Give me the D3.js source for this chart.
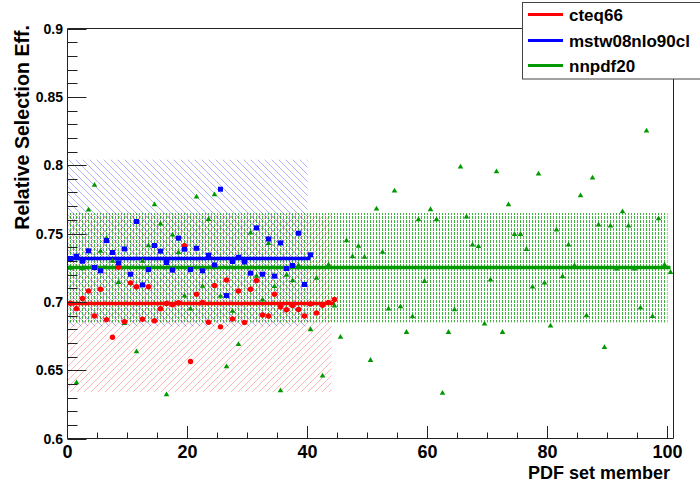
<!DOCTYPE html>
<html><head><meta charset="utf-8">
<script src="https://cdn.jsdelivr.net/npm/d3@7"></script>
<style>body{margin:0;background:#fff}svg{display:block}text{font-family:"Liberation Sans",Arial,sans-serif;font-weight:bold}</style>
</head><body>
<script>
const seriesNames = ["cteq66", "mstw08nlo90cl", "nnpdf20"];
const seriesColors = ["#ff0000", "#0000ff", "#009900"];
const cteq66 = [0.699,0.695,0.7025,0.708,0.6897,0.7092,0.687,0.6741,0.7253,0.6855,0.7139,0.711,0.6873,0.711,0.6862,0.6949,0.6988,0.6978,0.6993,0.7411,0.6563,0.7055,0.6995,0.6851,0.7119,0.6817,0.716,0.6875,0.708,0.6849,0.7092,0.7156,0.6904,0.6896,0.7056,0.6963,0.6942,0.6973,0.6944,0.6896,0.6985,0.6919,0.6975,0.6996,0.7017];
const mstw08 = [0.7317,0.7334,0.7297,0.7373,0.7251,0.7227,0.7448,0.7361,0.7285,0.7387,0.7202,0.7588,0.7124,0.7236,0.7412,0.7371,0.7288,0.7232,0.7466,0.7385,0.7236,0.7392,0.7227,0.7341,0.727,0.7824,0.7046,0.7295,0.7326,0.7292,0.721,0.7541,0.7202,0.746,0.7188,0.7431,0.7244,0.7266,0.7502,0.7127,0.7344];
const nnpdf20 = [0.725,0.6412,0.7245,0.7675,0.7856,0.7373,0.7469,0.73,0.7146,0.6845,0.7139,0.6638,0.73,0.7414,0.7714,0.7573,0.6323,0.7492,0.7364,0.7046,0.6951,0.777,0.7117,0.7607,0.7787,0.7044,0.6529,0.6935,0.6692,0.729,0.7507,0.7191,0.7017,0.7431,0.7115,0.6353,0.7199,0.7158,0.727,0.7127,0.68,0.7177,0.6461,0.7274,0.6974,0.6744,0.7451,0.7334,0.741,0.7329,0.6575,0.7683,0.7366,0.6951,0.7814,0.6968,0.678,0.6895,0.7605,0.7153,0.7678,0.7605,0.6334,0.678,0.6946,0.799,0.7624,0.7419,0.7409,0.6841,0.7163,0.7956,0.678,0.7714,0.7497,0.7497,0.7387,0.7112,0.7939,0.7141,0.6827,0.7529,0.7188,0.7419,0.7268,0.778,0.6902,0.791,0.7566,0.667,0.7558,0.7244,0.7663,0.7558,0.7244,0.6958,0.8253,0.6896,0.7612,0.7273,0.7219];
const means = [0.6988, 0.7317, 0.7251];
const bandLow = [0.634, 0.682, 0.685];
const bandHigh = [0.764, 0.804, 0.765];
const bandEnd = [44, 40, 100];
const xTicks = [0, 20, 40, 60, 80, 100];
const yTicks = [0.6, 0.65, 0.7, 0.75, 0.8, 0.85, 0.9];
const xTitle = "PDF set member";
const yTitle = "Relative Selection Eff.";

const W = 700, H = 486;
const svg = d3.select("body").append("svg").attr("width", W).attr("height", H);
const x = d3.scaleLinear().domain([0, 101]).range([67.5, 673.5]);
const y = d3.scaleLinear().domain([0.6, 0.9]).range([438.5, 28.5]);

const defs = svg.append("defs");
const rp = defs.append("pattern").attr("id","hatchRed").attr("patternUnits","userSpaceOnUse").attr("width",7).attr("height",7);
rp.append("path").attr("d","M0,7 L7,0 M-1,1 L1,-1 M6,8 L8,6").attr("stroke","#ff0000").attr("stroke-opacity",0.28).attr("stroke-width",1);
const bp = defs.append("pattern").attr("id","hatchBlue").attr("patternUnits","userSpaceOnUse").attr("width",7).attr("height",7);
bp.append("path").attr("d","M0,0 L7,7 M-1,6 L1,8 M6,-1 L8,1").attr("stroke","#0000ff").attr("stroke-opacity",0.3).attr("stroke-width",1);
const gp = defs.append("pattern").attr("id","dotGreen").attr("patternUnits","userSpaceOnUse").attr("width",3).attr("height",4);
gp.append("rect").attr("x",1).attr("y",0).attr("width",1).attr("height",3).attr("fill","#009900").attr("fill-opacity",0.75);
const fills = ["url(#hatchRed)","url(#hatchBlue)","url(#dotGreen)"];

// bands
[0,1,2].forEach(k => {
  svg.append("rect").attr("x", x(0)).attr("y", y(bandHigh[k]))
    .attr("width", x(bandEnd[k]) - x(0)).attr("height", y(bandLow[k]) - y(bandHigh[k]))
    .attr("fill", fills[k]);
});

// mean lines
const datas = [cteq66, mstw08, nnpdf20];
[0,1,2].forEach(k => {
  svg.append("line").attr("x1", x(0)).attr("x2", x(datas[k].length - 0.5))
    .attr("y1", y(means[k])).attr("y2", y(means[k]))
    .attr("stroke", seriesColors[k]).attr("stroke-width", 3.5);
});

// markers
svg.append("g").selectAll("path").data(nnpdf20).join("path")
  .attr("d", (v,i) => { const cx = x(i+0.5), cy = y(v); return `M${cx-2.8},${cy+2} L${cx+2.8},${cy+2} L${cx},${cy-2.8} Z`; })
  .attr("fill", seriesColors[2]);
svg.append("g").selectAll("circle").data(cteq66).join("circle")
  .attr("cx", (v,i) => x(i+0.5)).attr("cy", v => y(v)).attr("r", 2.7).attr("fill", seriesColors[0]);
svg.append("g").selectAll("rect").data(mstw08).join("rect")
  .attr("x", (v,i) => x(i+0.5) - 2.5).attr("y", v => y(v) - 2.5).attr("width", 5).attr("height", 5)
  .attr("fill", seriesColors[1]);

// frame
const fc = "#222";
svg.append("line").attr("x1", x(0)).attr("x2", x(101)).attr("y1", 28.5).attr("y2", 28.5).attr("stroke", fc);
svg.append("line").attr("x1", 673.5).attr("x2", 673.5).attr("y1", 28.5).attr("y2", 438.5).attr("stroke", fc);

// x axis
const xMinor = d3.range(0, 101, 5);
const xa = svg.append("g");
xa.append("line").attr("x1", 67.5).attr("x2", 673.5).attr("y1", 438.5).attr("y2", 438.5).attr("stroke", fc);
xa.selectAll("line.t").data(xMinor).join("line").attr("class","t")
  .attr("x1", d => x(d)).attr("x2", d => x(d)).attr("y1", 438.5)
  .attr("y2", d => xTicks.includes(d) ? 426 : 432.5).attr("stroke", fc);
xa.selectAll("text").data(xTicks).join("text")
  .attr("x", d => x(d)).attr("y", 458).attr("text-anchor","middle").attr("font-size", 18).attr("fill","#000")
  .text(d => d);
svg.append("text").attr("x", 670).attr("y", 479).attr("text-anchor","end").attr("font-size", 18).text(xTitle);

// y axis
const yMinor = d3.range(0, 31).map(i => 0.6 + i*0.01);
const ya = svg.append("g");
ya.append("line").attr("x1", 67.5).attr("x2", 67.5).attr("y1", 28.5).attr("y2", 438.5).attr("stroke", fc);
ya.selectAll("line.t").data(yMinor).join("line").attr("class","t")
  .attr("x1", 67.5).attr("y1", d => Math.round(y(d))+0.5).attr("y2", d => Math.round(y(d))+0.5)
  .attr("x2", (d,i) => i % 5 === 0 ? 86.5 : 77.5).attr("stroke", fc);
ya.selectAll("text").data(yTicks).join("text")
  .attr("x", 63).attr("y", d => y(d) + 5).attr("text-anchor","end").attr("font-size", 14)
  .text(d => d3.format("")(d));
svg.append("text").attr("transform","translate(29,25) rotate(-90)").attr("text-anchor","end")
  .attr("font-size", 19.6).text(yTitle);

// legend
const lg = svg.append("g");
lg.append("rect").attr("x", 522.5).attr("y", 2.5).attr("width", 180).attr("height", 76.5)
  .attr("fill","#fff").attr("stroke", "#444");
const ly = [14.5, 40.5, 65.5];
seriesNames.forEach((n,k) => {
  lg.append("line").attr("x1", 528).attr("x2", 563).attr("y1", ly[k]).attr("y2", ly[k])
    .attr("stroke", seriesColors[k]).attr("stroke-width", 3);
  lg.append("text").attr("x", 569).attr("y", ly[k] + 6).attr("font-size", 17).text(n);
});
</script>
</body></html>
